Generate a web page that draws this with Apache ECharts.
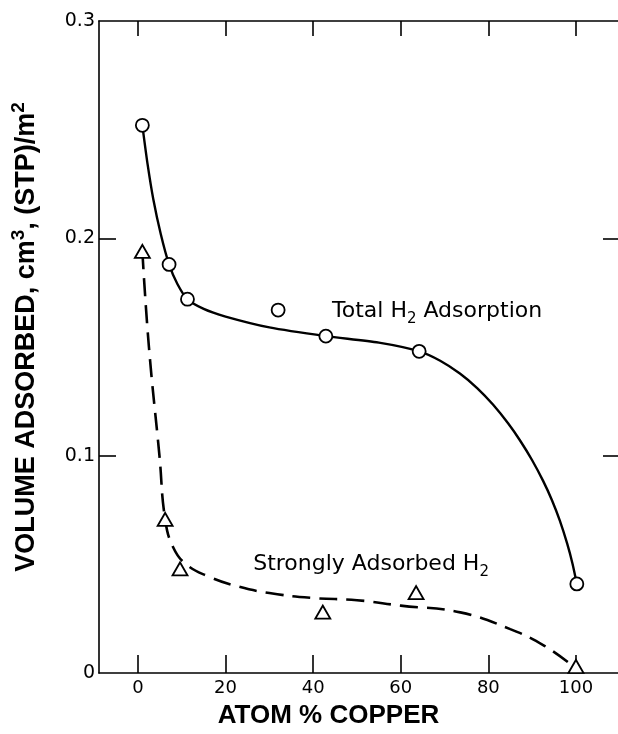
<!DOCTYPE html>
<html>
<head>
<meta charset="utf-8">
<script src="https://cdn.jsdelivr.net/npm/echarts@6/dist/echarts.min.js"></script>
<style>
html,body{margin:0;padding:0;background:#fff;}
#chart{width:618px;height:734px;}
</style>
</head>
<body>
<div id="chart"></div>
<script>
// ---- data ----
const xTicks = [0, 20, 40, 60, 80, 100];
const yTicks = [0, 0.1, 0.2, 0.3];
const yLabelTicks = [0.1, 0.2];

// Total H2 adsorption (circles)
const totalX = [1, 7.1, 11.3, 32.0, 42.9, 64.2, 100.2];
const totalY = [0.252, 0.188, 0.172, 0.167, 0.155, 0.148, 0.041];

// Strongly adsorbed H2 (triangles)
const strongX = [1, 6.2, 9.6, 42.2, 63.5, 100];
const strongY = [0.194, 0.0707, 0.0479, 0.028, 0.037, 0.003];

// hand-drawn fitted curves
const totalCurveX = [1, 2.2, 3.5, 5.2, 7.1, 9, 11.3, 15, 20, 30, 42.9, 55, 64.2, 69, 73.5, 77.5, 81.1, 84.5, 87.2, 90, 92.5, 94.5, 96.3, 98, 99.2, 100.2];
const totalCurveY = [0.252, 0.234, 0.218, 0.202, 0.188, 0.179, 0.172, 0.1675, 0.164, 0.159, 0.155, 0.152, 0.148, 0.1437, 0.1378, 0.131, 0.1234, 0.1149, 0.1071, 0.0979, 0.0884, 0.0796, 0.0702, 0.0595, 0.0504, 0.041];

const strongCurveX = [1, 2.5, 4.9, 6.2, 8, 11, 16, 22.5, 30, 40, 50, 60, 73.6, 85, 92.8, 99.7];
const strongCurveY = [0.194, 0.150, 0.100, 0.0707, 0.058, 0.050, 0.0445, 0.040, 0.0368, 0.0345, 0.0335, 0.031, 0.0279, 0.0202, 0.0125, 0.0026];

// annotations (anchored in data space)
const annoText = ['Total H{sub|2} Adsorption', 'Strongly Adsorbed H{sub|2}'];
const annoX = [44.3, 26.3];
const annoY = [0.1664, 0.050];

const xTitle = 'ATOM % COPPER';
const yTitle = 'VOLUME ADSORBED, cm{sup|3}, (STP)/m{sup|2}';

// ---- chart ----
const FONT = 'Liberation Sans';
const AFONT = 'DejaVu Sans';
const zip = (a, b) => a.map((v, i) => [v, b[i]]);
const chart = echarts.init(document.getElementById('chart'), null, {renderer: 'canvas'});

const tick = () => ({color: '#000', width: 1.6});
const option = {
  backgroundColor: '#fff',
  animation: false,
  grid: {left: 99, right: 0, top: 21, bottom: 56},
  xAxis: [{
    type: 'value', min: -8.9, max: 109.6, position: 'bottom',
    axisLine: {show: true, onZero: false, lineStyle: {color: '#000', width: 1.6}},
    axisTick: {show: true, inside: true, length: 18, customValues: xTicks, lineStyle: tick()},
    axisLabel: {show: true, customValues: xTicks, margin: 6, color: '#000', fontFamily: AFONT, fontSize: 18},
    splitLine: {show: false},
    name: xTitle, nameLocation: 'middle', nameGap: 30,
    nameTextStyle: {color: '#000', fontFamily: FONT, fontSize: 26, fontWeight: 'bold', padding: [0, 60, 0, 0]}
  }, {
    type: 'value', min: -8.9, max: 109.6, position: 'top',
    axisLine: {show: true, onZero: false, lineStyle: {color: '#000', width: 1.6}},
    axisTick: {show: true, inside: true, length: 15, customValues: xTicks, lineStyle: tick()},
    axisLabel: {show: false},
    splitLine: {show: false}
  }],
  yAxis: [{
    type: 'value', min: 0, max: 0.3, position: 'left',
    axisLine: {show: true, onZero: false, lineStyle: {color: '#000', width: 1.6}},
    axisTick: {show: true, inside: true, length: 17, customValues: yLabelTicks, lineStyle: tick()},
    axisLabel: {show: true, customValues: yTicks, margin: 4, color: '#000', fontFamily: AFONT, fontSize: 19,
      formatter: v => (v === 0 ? '0' : v.toFixed(1))},
    splitLine: {show: false},
    name: yTitle, nameLocation: 'middle', nameGap: 54, nameRotate: 90,
    nameTextStyle: {
      color: '#000', fontFamily: FONT, fontSize: 27, fontWeight: 'bold', lineHeight: 36,
      padding: [0, 0, 0, 20],
      rich: {sup: {fontFamily: FONT, fontSize: 19, fontWeight: 'bold', color: '#000', verticalAlign: 'top', lineHeight: 18}}
    }
  }, {
    type: 'value', min: 0, max: 0.3, position: 'right',
    axisLine: {show: false, onZero: false},
    axisTick: {show: true, inside: true, length: 15, customValues: yLabelTicks, lineStyle: tick()},
    axisLabel: {show: false},
    splitLine: {show: false}
  }],
  series: [
    {
      name: 'totalCurve', type: 'line', data: zip(totalCurveX, totalCurveY),
      smooth: 0.25, showSymbol: false, symbol: 'none', silent: true,
      lineStyle: {color: '#000', width: 2.4}, z: 2
    },
    {
      name: 'strongCurve', type: 'line', data: zip(strongCurveX, strongCurveY),
      smooth: 0.45, showSymbol: false, symbol: 'none', silent: true,
      lineStyle: {color: '#000', width: 2.6, type: [18, 9]}, z: 2
    },
    {
      name: 'Total', type: 'scatter', data: zip(totalX, totalY),
      symbol: 'circle', symbolSize: 13,
      itemStyle: {color: '#fff', borderColor: '#000', borderWidth: 1.8, opacity: 1}, z: 5
    },
    {
      name: 'Strong', type: 'scatter', data: zip(strongX, strongY),
      symbol: 'triangle', symbolSize: [15, 13],
      itemStyle: {color: '#fff', borderColor: '#000', borderWidth: 1.8, opacity: 1}, z: 5
    },
    {
      name: 'labels', type: 'scatter', silent: true,
      data: annoText.map((t, i) => ({value: [annoX[i], annoY[i]], name: t})),
      symbolSize: 0,
      itemStyle: {opacity: 1},
      label: {
        show: true, position: 'right', distance: 0,
        formatter: p => p.name,
        color: '#000', opacity: 1, textBorderWidth: 0, fontFamily: AFONT, fontSize: 22, lineHeight: 30,
        rich: {sub: {fontFamily: AFONT, fontSize: 15, color: '#000', verticalAlign: 'bottom', lineHeight: 15}}
      },
      z: 6
    }
  ]
};
chart.setOption(option);
</script>
</body>
</html>
